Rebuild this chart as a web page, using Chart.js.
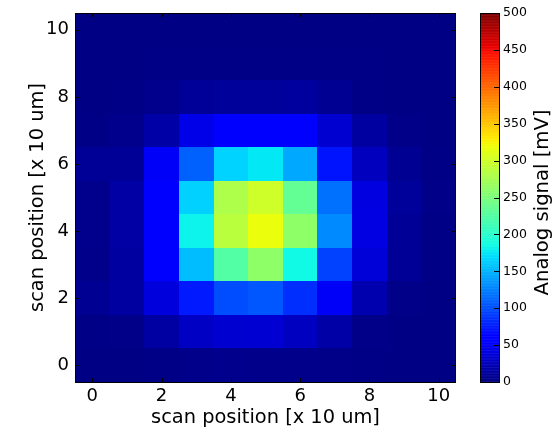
<!DOCTYPE html>
<html>
<head>
<meta charset="utf-8">
<script src="https://cdn.jsdelivr.net/npm/chart.js@4"></script>
<style>
  body { margin: 0; background: #fff; }
  canvas { display: block; }
</style>
</head>
<body>
<canvas id="scanChart" width="557" height="431"></canvas>
<script>
// scan grid, row index = y position (0 at bottom), column index = x position
const xPositions = [0, 1, 2, 3, 4, 5, 6, 7, 8, 9, 10];
const yPositions = [0, 1, 2, 3, 4, 5, 6, 7, 8, 9, 10];
const signal = [
    [2, 2, 3, 5, 6, 5, 5, 4, 3, 2, 2],            // y = 0
    [3, 4, 15, 30, 35, 36, 28, 17, 4, 2, 2],      // y = 1
    [8, 14, 40, 75, 100, 105, 85, 52, 20, 4, 2],  // y = 2
    [5, 14, 60, 155, 225, 262, 185, 95, 38, 10, 3],
    [6, 16, 60, 182, 288, 318, 262, 130, 43, 10, 3],
    [6, 16, 60, 165, 280, 300, 235, 118, 42, 12, 4],
    [10, 10, 52, 110, 166, 176, 145, 72, 27, 8, 3],
    [3, 6, 17, 45, 58, 62, 57, 35, 14, 4, 2],
    [2, 3, 6, 11, 12, 12, 13, 8, 3, 2, 2],
    [2, 2, 3, 3, 3, 3, 3, 3, 3, 2, 2],
    [2, 2, 2, 2, 2, 2, 2, 2, 2, 2, 2]             // y = 10
];
const axisTicks = [0, 2, 4, 6, 8, 10];
const cbTicks = [0, 50, 100, 150, 200, 250, 300, 350, 400, 450, 500];
const vMin = 0, vMax = 500;

const font = 'DejaVu Sans';

// matplotlib "jet"
function jet(v) {
    const t = Math.max(0, Math.min(1, (v - vMin) / (vMax - vMin)));
    let r, g, b;
    if (t < 0.35) r = 0; else if (t < 0.66) r = (t - 0.35) / 0.31; else if (t < 0.89) r = 1; else r = 1 - (t - 0.89) / 0.11 * 0.5;
    if (t < 0.125) g = 0; else if (t < 0.375) g = (t - 0.125) / 0.25; else if (t < 0.64) g = 1; else if (t < 0.91) g = 1 - (t - 0.64) / 0.27; else g = 0;
    if (t < 0.11) b = 0.5 + t / 0.22; else if (t < 0.34) b = 1; else if (t < 0.65) b = 1 - (t - 0.34) / 0.31; else b = 0;
    return 'rgb(' + Math.round(r * 255) + ',' + Math.round(g * 255) + ',' + Math.round(b * 255) + ')';
}

const cells = [];
yPositions.forEach((y, j) => {
    xPositions.forEach((x, i) => {
        cells.push({ x: x, y: y, v: signal[j][i] });
    });
});

// fixed axis sizes, and no extra padding from tick label overflow
function fixSize(w, h) {
    return s => {
        if (w) s.width = w;
        if (h) s.height = h;
        s.paddingTop = 0; s.paddingBottom = 0; s.paddingLeft = 0; s.paddingRight = 0;
    };
}

const heatmapPlugin = {
    id: 'heatmap',
    beforeDatasetsDraw(chart) {
        const ctx = chart.ctx;
        const xs = chart.scales.x, ys = chart.scales.y, cb = chart.scales.cb;
        const area = chart.chartArea;
        ctx.save();
        // cells
        chart.data.datasets[0].data.forEach(c => {
            const l = Math.round(xs.getPixelForValue(c.x - 0.5));
            const r = Math.round(xs.getPixelForValue(c.x + 0.5));
            const t = Math.round(ys.getPixelForValue(c.y + 0.5));
            const b = Math.round(ys.getPixelForValue(c.y - 0.5));
            ctx.fillStyle = jet(c.v);
            ctx.fillRect(l, t, r - l, b - t);
        });
        // inward tick marks on all four sides
        ctx.strokeStyle = '#000';
        ctx.lineWidth = 1;
        ctx.beginPath();
        axisTicks.forEach(v => {
            const px = Math.round(xs.getPixelForValue(v)) + 0.5;
            ctx.moveTo(px, area.bottom); ctx.lineTo(px, area.bottom - 4);
            ctx.moveTo(px, area.top); ctx.lineTo(px, area.top + 4);
            const py = Math.round(ys.getPixelForValue(v)) + 0.5;
            ctx.moveTo(area.left, py); ctx.lineTo(area.left + 4, py);
            ctx.moveTo(area.right, py); ctx.lineTo(area.right - 4, py);
        });
        ctx.stroke();
        ctx.strokeRect(area.left + 0.5, area.top + 0.5, area.right - area.left - 1, area.bottom - area.top);

        // colorbar
        const cbL = cb.left + 24, cbW = 19;
        for (let v = vMin; v < vMax; v += 1) {
            const y1 = cb.getPixelForValue(v + 1), y0 = cb.getPixelForValue(v);
            ctx.fillStyle = jet(v + 0.5);
            ctx.fillRect(cbL, y1, cbW, y0 - y1 + 0.5);
        }
        ctx.strokeRect(cbL + 0.5, cb.top + 0.5, cbW, cb.bottom - cb.top);
        ctx.beginPath();
        cbTicks.forEach(v => {
            const py = Math.round(cb.getPixelForValue(v)) + 0.5;
            ctx.moveTo(cbL + cbW, py); ctx.lineTo(cbL + cbW - 5, py);
        });
        ctx.stroke();

        // colorbar label, reading bottom to top
        ctx.fillStyle = '#000';
        ctx.font = '19.6px "' + font + '"';
        ctx.textAlign = 'center';
        ctx.textBaseline = 'alphabetic';
        ctx.translate(547.5, 202.5);
        ctx.rotate(-Math.PI / 2);
        ctx.fillText('Analog signal [mV]', 0, 0);
        ctx.restore();
    }
};

new Chart(document.getElementById('scanChart').getContext('2d'), {
    type: 'scatter',
    data: {
        datasets: [{
            data: cells,
            pointRadius: 0,
            pointHoverRadius: 0
        }]
    },
    options: {
        responsive: false,
        animation: false,
        events: [],
        layout: { padding: { top: 13, left: 0, right: 0, bottom: 0 } },
        plugins: {
            legend: { display: false },
            tooltip: { enabled: false }
        },
        scales: {
            x: {
                type: 'linear',
                position: 'bottom',
                min: -0.5,
                max: 10.5,
                afterBuildTicks: s => { s.ticks = axisTicks.map(v => ({ value: v })); },
                afterFit: fixSize(0, 49),
                grid: { display: false, drawTicks: false },
                border: { display: false },
                ticks: { color: '#000', padding: 4, maxRotation: 0, font: { family: font, size: 18 } },
                title: {
                    display: true,
                    text: 'scan position [x 10 um]',
                    color: '#000',
                    padding: { top: 0, bottom: 1 },
                    font: { family: font, size: 19.4 }
                }
            },
            y: {
                type: 'linear',
                position: 'left',
                min: -0.5,
                max: 10.5,
                afterBuildTicks: s => { s.ticks = axisTicks.map(v => ({ value: v })); },
                afterFit: fixSize(75, 0),
                grid: { display: false, drawTicks: false },
                border: { display: false },
                ticks: { color: '#000', padding: 6, font: { family: font, size: 18 } },
                title: {
                    display: true,
                    text: 'scan position [x 10 um]',
                    color: '#000',
                    padding: { top: 26, bottom: 0 },
                    font: { family: font, size: 19.4 }
                }
            },
            cb: {
                type: 'linear',
                position: 'right',
                min: vMin,
                max: vMax,
                afterBuildTicks: s => { s.ticks = cbTicks.map(v => ({ value: v })); },
                afterFit: fixSize(101, 0),
                grid: { display: false, drawTicks: false },
                border: { display: false },
                ticks: { color: '#000', padding: 47, font: { family: font, size: 12.5 } }
            }
        }
    },
    plugins: [heatmapPlugin]
});
</script>
</body>
</html>
